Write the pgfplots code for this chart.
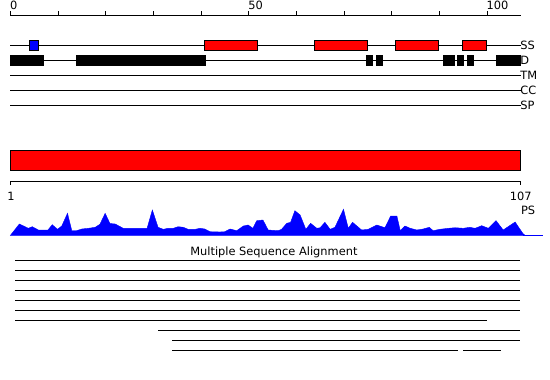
\documentclass[border=0pt]{standalone}
\usepackage{pgfplots}
\pgfplotsset{compat=1.18}
\usepackage{fontspec}
\setmainfont{DejaVu Sans}
\definecolor{pred}{RGB}{255,0,0}
\definecolor{pblue}{RGB}{0,0,255}
\newcommand{\lbl}{\fontsize{11.4bp}{13bp}\selectfont}
\tikzset{lab/.style={font=\lbl, inner sep=0pt}}
\newcommand{\featbox}[5]{\addplot[fill=#1, draw=black, line width=0.9bp] coordinates {(#2,#4) (#3,#4) (#3,#5) (#2,#5)} -- cycle;}
\newcommand{\trackline}[3]{\addplot[black, line width=1bp] coordinates {(#1,#3) (#2,#3)};}
\begin{document}
\begin{tikzpicture}
\begin{axis}[width=550bp, height=380bp, scale only axis,
  xmin=-2.161, xmax=113.22, ymin=0, ymax=380, y dir=reverse,
  hide axis, clip=false]
% top ruler
\trackline{0}{107.1}{15}
\pgfplotsinvokeforeach{0,10,20,30,40,50,60,70,80,90,100}{\draw[line width=0.9bp] (axis cs:#1,11) -- (axis cs:#1,15);}
\node[lab, anchor=west] at (axis cs:-0.1,5.5) {0};
\node[lab, anchor=west] at (axis cs:49.9,5.5) {50};
\node[lab, anchor=west] at (axis cs:99.9,5.5) {100};
% tracks
\trackline{0}{107.1}{45}
\trackline{0}{107.1}{60}
\trackline{0}{107.1}{75}
\trackline{0}{107.1}{90}
\trackline{0}{107.1}{105}
\node[lab, anchor=west] at (axis cs:106.95,45) {SS};
\node[lab, anchor=west] at (axis cs:106.95,60) {D};
\node[lab, anchor=west] at (axis cs:106.95,75) {TM};
\node[lab, anchor=west] at (axis cs:106.95,90) {CC};
\node[lab, anchor=west] at (axis cs:106.95,105) {SP};
% SS features
\featbox{pblue}{4}{6}{40}{50}
\featbox{pred}{40.8}{51.9}{40}{50}
\featbox{pred}{63.9}{74.9}{40}{50}
\featbox{pred}{80.9}{89.8}{40}{50}
\featbox{pred}{94.8}{99.9}{40}{50}
% D features
\featbox{black}{0}{7}{55.5}{65.5}
\featbox{black}{13.8}{41}{55.5}{65.5}
\featbox{black}{74.8}{76}{55.5}{65.5}
\featbox{black}{76.9}{78}{55.5}{65.5}
\featbox{black}{90.8}{93.1}{55.5}{65.5}
\featbox{black}{93.9}{95.1}{55.5}{65.5}
\featbox{black}{95.8}{97.1}{55.5}{65.5}
\featbox{black}{101.9}{107.1}{55.5}{65.5}
% big bar
\featbox{pred}{0}{107}{150}{170.3}
% second ruler
\trackline{0}{107.1}{181}
\draw[line width=0.9bp] (axis cs:0,181) -- (axis cs:0,184.5);
\draw[line width=0.9bp] (axis cs:107.1,181) -- (axis cs:107.1,184.5);
\node[lab, anchor=center] at (axis cs:0.15,196) {1};
\node[lab, anchor=center] at (axis cs:107.1,196) {107};
\node[lab, anchor=west] at (axis cs:107.1,210.5) {PS};
% profile
\addplot[fill=pblue, draw=pblue, line width=0.4bp] coordinates {
(0,235.5) (1.9,224) (3.8,228.3) (4.6,226.7) (5.9,230) (7.9,230) (8.8,224.7) (9.9,229.3)
(10.8,226) (12.0,213.3) (12.9,230.7) (13.9,230.7) (15.0,229) (16.4,228.3) (17.8,227.3)
(18.8,224.3) (19.9,213.3) (20.9,223.5) (22.0,224) (23.7,228.3) (25.1,228.3) (28.7,228.3)
(29.8,210) (31.0,227.3) (32.1,229.3) (33.1,228.3) (34.2,228.3) (35.2,226.7) (36.3,227.3)
(37.3,229.3) (38.8,229.3) (39.8,228.3) (40.8,229) (41.9,231.7) (44.0,232) (45.0,231.7)
(46.1,229) (47.5,230.7) (48.9,226) (49.9,225) (50.9,228.3) (51.7,220.7) (53.0,220)
(54.1,230) (56.2,230.7) (56.9,229.3) (58.0,223.3) (58.8,222.3) (59.7,210.7) (60.8,215)
(62.0,229.3) (63.0,223.3) (64.3,228.3) (65.0,227.7) (66.0,222.3) (67.1,229.3) (68.1,227.3)
(69.9,209.3) (70.9,228.3) (71.8,222.3) (73.7,230) (75.1,229.3) (76.9,225) (78.6,227.7)
(79.8,216) (81.1,216) (81.8,230.7) (82.8,226) (83.9,228.3) (85.3,230) (86.6,229)
(87.9,227.3) (88.7,230.7) (90.1,229.3) (91.9,228.3) (93.3,227.7) (95.0,228.3) (96.4,227.3)
(97.5,228.3) (98.9,225.7) (100.3,228.3) (101.9,220.7) (103.4,230) (105.9,222) (107.5,233.3)
(108.0,235.5)} -- cycle;
\addplot[pblue, line width=1bp] coordinates {(107.5,235.5) (111.8,235.5)};
% MSA
\node[lab, anchor=base] at (axis cs:55.3,255) {Multiple Sequence Alignment};
\trackline{1}{107}{260}
\trackline{1}{107}{270}
\trackline{1}{107}{280}
\trackline{1}{107}{290}
\trackline{1}{107}{300}
\trackline{1}{107}{310}
\trackline{1}{100}{320}
\trackline{31}{107}{330}
\trackline{34}{107}{340}
\trackline{34}{94}{350}
\trackline{95}{103}{350}
\end{axis}
\pgfresetboundingbox
\path (current axis.south west) rectangle (current axis.north east);
\end{tikzpicture}
\end{document}
